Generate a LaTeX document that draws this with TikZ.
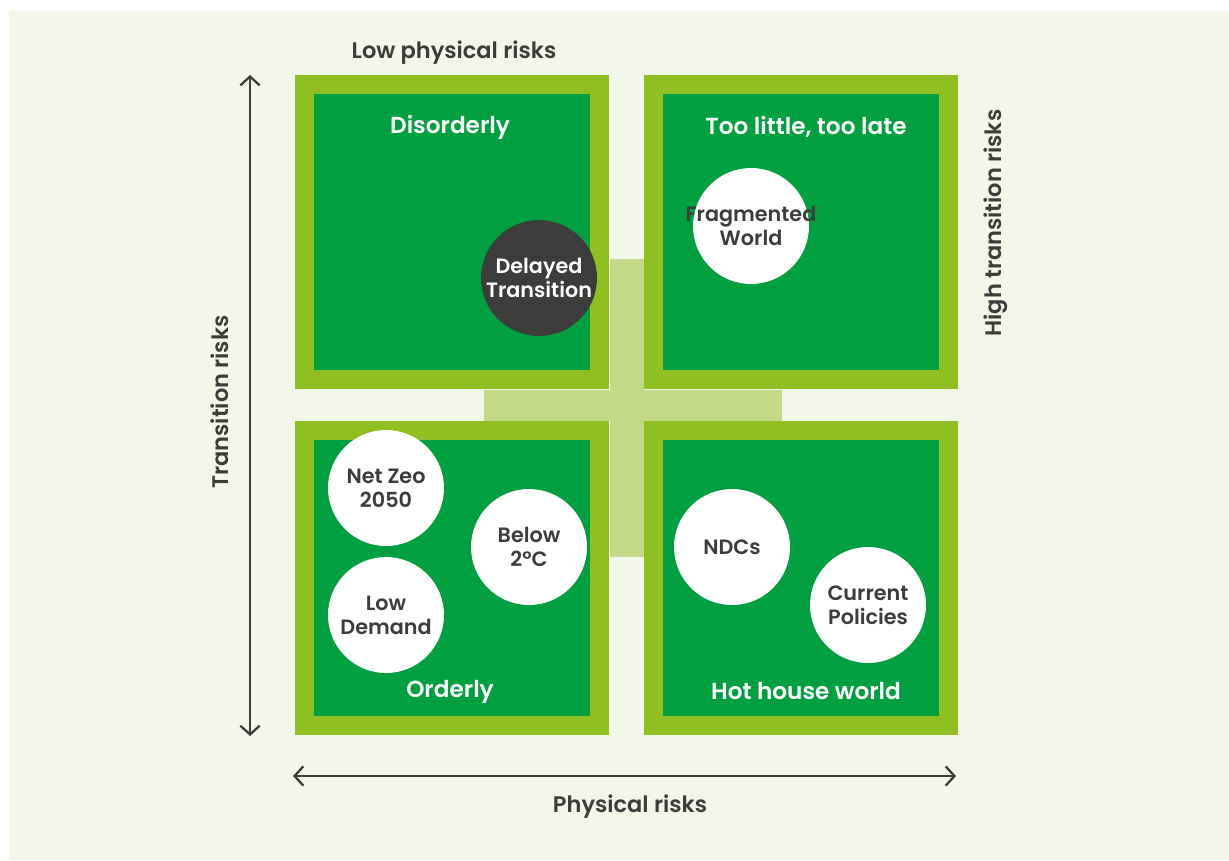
\documentclass[tikz,border=0pt]{standalone}
\usepackage{fontspec}
\setmainfont{Poppins}[UprightFont=* SemiBold]
\usetikzlibrary{arrows.meta}

\definecolor{panelbg}{HTML}{F3F7EA}
\definecolor{lime}{HTML}{8FBF21}
\definecolor{leaf}{HTML}{00A040}
\definecolor{pale}{HTML}{C4D987}
\definecolor{ink}{HTML}{3C3C3B}

\tikzset{
  quad/.style={fill=leaf, draw=lime, line width=0.37cm, minimum size=5.91cm, inner sep=0pt},
  quadname/.style={text=white, font=\fontsize{13.2}{15}\selectfont},
  scen/.style={circle, fill=white, minimum size=2.32cm, inner sep=-6pt, align=center,
    text=ink, font=\fontsize{11.8}{13.7}\selectfont},
  axislabel/.style={text=ink, font=\fontsize{12.8}{15}\selectfont},
  axis/.style={draw=ink, line width=1.3pt, {Straight Barb[length=5pt,width=11pt]}-{Straight Barb[length=5pt,width=11pt]}}
}

\begin{document}
\begin{tikzpicture}[x=0.02cm, y=-0.02cm]
  \useasboundingbox (0,0) rectangle (1229,860);
  \fill[white] (0,0) rectangle (1229,860);
  \fill[panelbg] (9,11) rectangle (1229,860);

  % cross behind the four boxes
  \fill[pale] (610,259) rectangle (644,557);
  \fill[pale] (484,390) rectangle (782,421);

  % quadrants
  \node[quad] (tl) at (452,232) {};
  \node[quad] (tr) at (801,232) {};
  \node[quad] (bl) at (452,578) {};
  \node[quad] (br) at (801,578) {};

  \node[quadname] (disorderly) at (450,127) {Disorderly};
  \node[quadname] (toolate) at (806,127) {Too little, too late};
  \node[quadname] (orderly) at (450,692) {Orderly};
  \node[quadname] (hothouse) at (806,691) {Hot house world};

  % scenarios
  \node[scen, fill=ink, text=white] (delayed) at (539,278) {Delayed\\Transition};
  \node[scen] (fragmented) at (751,226) {Fragmented\\World};
  \node[scen] (netzero) at (386,488) {Net Zeo\\2050};
  \node[scen] (lowdemand) at (386,615) {Low\\Demand};
  \node[scen] (below) at (529,547) {Below\\2ºC};
  \node[scen] (ndcs) at (732,547) {NDCs};
  \node[scen] (current) at (868,605) {Current\\Policies};

  % axes
  \coordinate (vtop) at (250,75);
  \coordinate (vbot) at (250,736);
  \coordinate (hleft) at (293,776);
  \coordinate (hright) at (956,776);
  \draw[axis] (vtop) -- (vbot);
  \draw[axis] (hleft) -- (hright);

  \node[axislabel] (lowphys) at (454,53) {Low physical risks};
  \node[axislabel] (phys) at (630,807) {Physical risks};
  \node[axislabel, rotate=90] (trans) at (220,402) {Transition risks};
  \node[axislabel, rotate=90] (hightrans) at (996,223) {High transition risks};
\end{tikzpicture}
\end{document}
